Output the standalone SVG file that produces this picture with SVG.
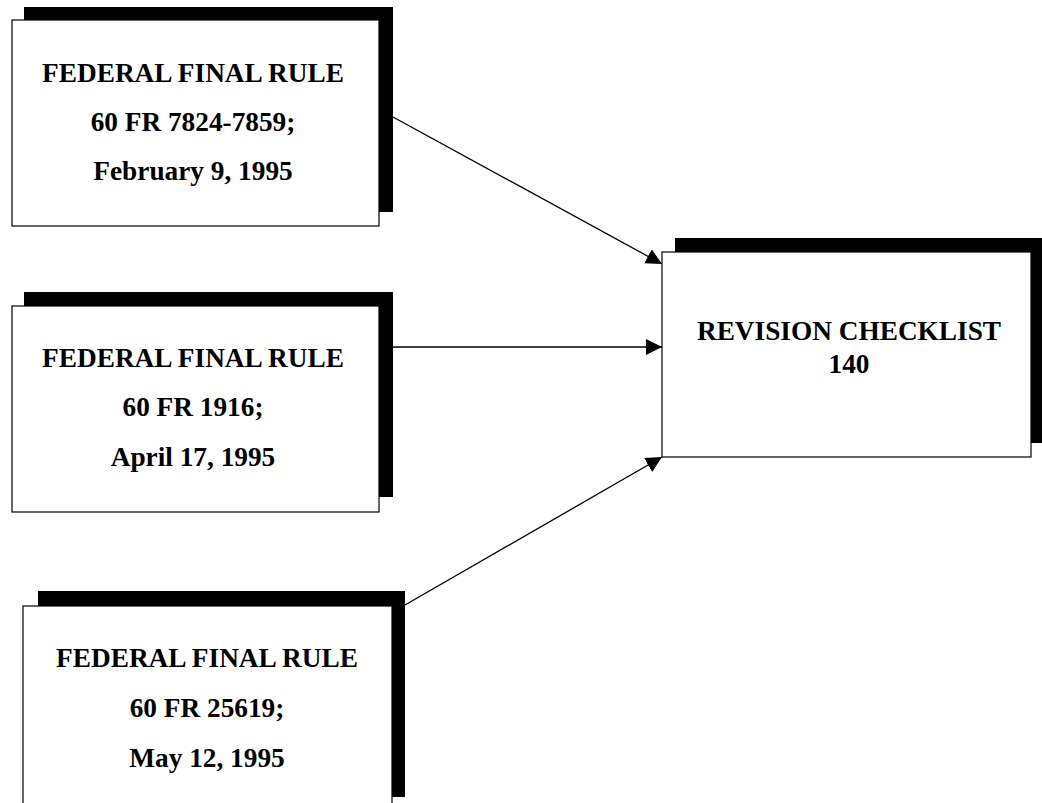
<svg xmlns="http://www.w3.org/2000/svg" width="1042" height="803" viewBox="0 0 1042 803">
<style>
.sh{fill:#000}
.bx{fill:#fff;stroke:#000;stroke-width:1.2}
.t{font-family:"Liberation Serif","Times New Roman",serif;font-weight:bold;font-size:27.3px;text-anchor:middle;fill:#000}
.c{stroke:#000;stroke-width:1.3;fill:none;marker-end:url(#ah)}
</style>
<defs>
<marker id="ah" viewBox="0 0 10 10" refX="10" refY="5" markerWidth="16" markerHeight="16" markerUnits="userSpaceOnUse" orient="auto">
<path d="M0,0 L10,5 L0,10 Z" fill="#000"/>
</marker>
</defs>
<rect width="1042" height="803" fill="#fff"/>
<g id="n1">
<rect class="sh" x="24" y="7" width="369" height="205"/>
<rect class="bx" x="12" y="20" width="367" height="206"/>
<text class="t" x="193" y="82">FEDERAL FINAL RULE</text>
<text class="t" x="193" y="131">60 FR 7824-7859;</text>
<text class="t" x="193" y="180">February 9, 1995</text>
</g>
<g id="n2">
<rect class="sh" x="24" y="292" width="369" height="205"/>
<rect class="bx" x="12" y="306" width="367" height="206"/>
<text class="t" x="193" y="367">FEDERAL FINAL RULE</text>
<text class="t" x="193" y="416">60 FR 1916;</text>
<text class="t" x="193" y="466">April 17, 1995</text>
</g>
<g id="n3">
<rect class="sh" x="38" y="591" width="367" height="206"/>
<rect class="bx" x="23" y="606" width="369" height="210"/>
<text class="t" x="207" y="667">FEDERAL FINAL RULE</text>
<text class="t" x="207" y="717">60 FR 25619;</text>
<text class="t" x="207" y="767">May 12, 1995</text>
</g>
<g id="n4">
<rect class="sh" x="675" y="238" width="367" height="205"/>
<rect class="bx" x="662" y="252" width="369" height="205"/>
<text class="t" x="849" y="340">REVISION CHECKLIST</text>
<text class="t" x="849" y="373">140</text>
</g>
<g id="connectors">
<path class="c" d="M393,117 L662,264"/>
<path class="c" d="M393,347 L662,347"/>
<path class="c" d="M405,605 L662,457"/>
</g>
</svg>
